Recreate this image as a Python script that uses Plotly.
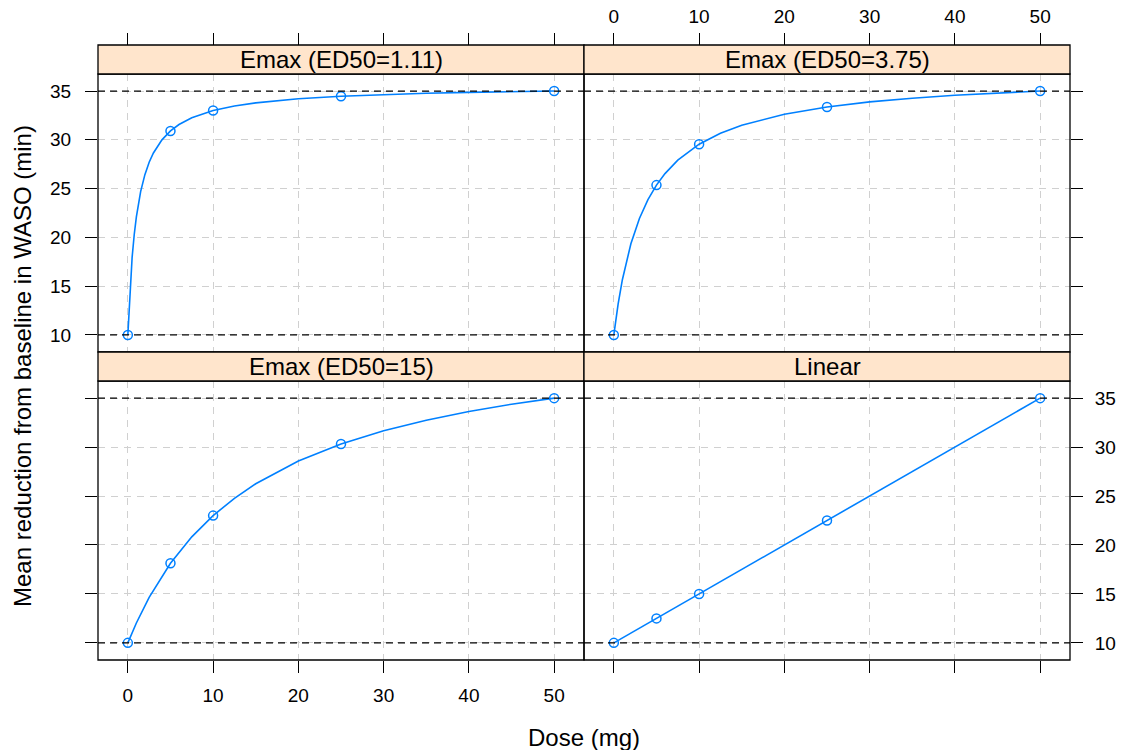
import plotly.graph_objects as go

# ---------------- data ----------------
panel_titles = ["Emax (ED50=1.11)", "Emax (ED50=3.75)", "Emax (ED50=15)", "Linear"]

obs_dose = [0, 5, 10, 25, 50]
obs_ed50_111 = [10.0, 30.91, 33.00, 34.47, 35.00]
obs_ed50_375 = [10.0, 25.36, 29.55, 33.37, 35.00]
obs_ed50_15 = [10.0, 18.13, 23.00, 30.31, 35.00]
obs_linear = [10.0, 12.5, 15.0, 22.5, 35.0]

curve_dose_111 = [0, 0.25, 0.5, 0.75, 1, 1.5, 2, 2.5, 3, 4, 5, 6, 7.5, 10, 12.5, 15, 20, 25, 30, 35, 40, 45, 50]
curve_ed50_111 = [10.0, 14.70, 17.94, 20.30, 22.11, 24.69, 26.43, 27.70, 28.65, 30.00, 30.91, 31.57,
                  32.26, 33.00, 33.47, 33.79, 34.21, 34.47, 34.64, 34.77, 34.87, 34.94, 35.00]

curve_dose_375 = [0, 0.5, 1, 1.5, 2, 3, 4, 5, 6, 7.5, 10, 12.5, 15, 20, 25, 30, 35, 40, 45, 50]
curve_ed50_375 = [10.0, 13.16, 15.66, 17.68, 19.35, 21.94, 23.87, 25.36, 26.54, 27.92, 29.55, 30.67,
                  31.50, 32.63, 33.37, 33.89, 34.27, 34.57, 34.81, 35.00]

curve_dose_15 = [0, 1, 2.5, 5, 7.5, 10, 12.5, 15, 20, 25, 30, 35, 40, 45, 50]
curve_ed50_15 = [10.0, 12.03, 14.64, 18.13, 20.83, 23.00, 24.77, 26.25, 28.57, 30.31, 31.67, 32.75,
                 33.64, 34.38, 35.00]

curve_dose_lin = [0, 5, 10, 25, 50]
curve_linear = [10.0, 12.5, 15.0, 22.5, 35.0]

ref_levels = [10, 35]
x_ticks = [0, 10, 20, 30, 40, 50]
y_ticks = [10, 15, 20, 25, 30, 35]
x_range = [-3.5, 53.5]
y_range = [8.25, 36.75]

# ---------------- layout geometry (pixels) ----------------
W, H = 1123, 750
def px(x):
    return x / W
def py(y):
    return 1 - y / H

xL = [px(98), px(584)]
xR = [px(584), px(1070)]
yT = [py(352), py(74)]
yB = [py(660), py(381)]
strip_h = 29

BLUE = "#0080ff"
GRID = "#d0d0d0"
FONT = "Liberation Sans, Arial, sans-serif"

fig = go.Figure()

panels = [
    ("x", "y", curve_dose_111, curve_ed50_111, obs_ed50_111),
    ("x2", "y2", curve_dose_375, curve_ed50_375, obs_ed50_375),
    ("x3", "y3", curve_dose_15, curve_ed50_15, obs_ed50_15),
    ("x4", "y4", curve_dose_lin, curve_linear, obs_linear),
]
for xa, ya, cd, cv, ov in panels:
    fig.add_trace(go.Scatter(x=cd, y=cv, xaxis=xa, yaxis=ya, mode="lines",
                             line=dict(color=BLUE, width=1.6), showlegend=False, hoverinfo="skip"))
    fig.add_trace(go.Scatter(x=obs_dose, y=ov, xaxis=xa, yaxis=ya, mode="markers",
                             marker=dict(symbol="circle-open", size=9, color=BLUE, line=dict(width=1.5, color=BLUE)),
                             showlegend=False))

common_x = dict(range=x_range, tickvals=x_ticks, showgrid=True, gridcolor=GRID, griddash="7px,6px",
                gridwidth=1, zeroline=False, showline=False, ticks="outside", ticklen=12,
                tickcolor="black", tickwidth=1, tickfont=dict(size=19, color="black", family=FONT))
common_y = dict(range=y_range, tickvals=y_ticks, showgrid=True, gridcolor=GRID, griddash="7px,6px",
                gridwidth=1, zeroline=False, showline=False, ticks="outside", ticklen=12,
                tickcolor="black", tickwidth=1, tickfont=dict(size=19, color="black", family=FONT))

strip_top = py(74 - strip_h)

fig.update_layout(
    xaxis=dict(common_x, domain=xL, anchor="free", position=strip_top, side="top", showticklabels=False),
    xaxis2=dict(common_x, domain=xR, anchor="free", position=strip_top, side="top", showticklabels=True,
                ticklabelstandoff=2),
    xaxis3=dict(common_x, domain=xL, anchor="y3", side="bottom", showticklabels=True, ticklabelstandoff=6),
    xaxis4=dict(common_x, domain=xR, anchor="y4", side="bottom", showticklabels=False),
    yaxis=dict(common_y, domain=yT, anchor="x", side="left", showticklabels=True, ticklabelstandoff=10),
    yaxis2=dict(common_y, domain=yT, anchor="x2", side="right", showticklabels=False),
    yaxis3=dict(common_y, domain=yB, anchor="x3", side="left", showticklabels=False),
    yaxis4=dict(common_y, domain=yB, anchor="x4", side="right", showticklabels=True, ticklabelstandoff=8),
)

shapes = []
annotations = []
axis_pairs = [("x", "y", yT), ("x2", "y2", yT), ("x3", "y3", yB), ("x4", "y4", yB)]
for i, (xa, ya, ydom) in enumerate(axis_pairs):
    # reference lines
    for lv in ref_levels:
        shapes.append(dict(type="line", xref=f"{xa} domain", yref=ya, x0=0, x1=1, y0=lv, y1=lv,
                           line=dict(color="black", width=1.2, dash="7px,5px"), layer="above"))
    # panel border
    shapes.append(dict(type="rect", xref=f"{xa} domain", yref=f"{ya} domain", x0=0, x1=1, y0=0, y1=1,
                       line=dict(color="black", width=1.3), fillcolor="rgba(0,0,0,0)", layer="above"))
    # strip
    s0 = ydom[1]
    s1 = ydom[1] + strip_h / H
    shapes.append(dict(type="rect", xref=f"{xa} domain", yref="paper", x0=0, x1=1, y0=s0, y1=s1,
                       line=dict(color="black", width=1.3), fillcolor="#ffe5cc", layer="above"))
    annotations.append(dict(text=panel_titles[i], xref=f"{xa} domain", yref="paper", x=0.5, y=(s0 + s1) / 2,
                            xanchor="center", yanchor="middle", showarrow=False,
                            font=dict(size=24, color="black", family=FONT)))

annotations.append(dict(text="Dose (mg)", xref="paper", yref="paper", x=px(584), y=py(737),
                        xanchor="center", yanchor="middle", showarrow=False,
                        font=dict(size=24, color="black", family=FONT)))
annotations.append(dict(text="Mean reduction from baseline in WASO (min)", xref="paper", yref="paper",
                        x=px(22), y=py(366), xanchor="center", yanchor="middle", showarrow=False,
                        textangle=-90, font=dict(size=24, color="black", family=FONT)))

fig.update_layout(
    width=W, height=H, margin=dict(l=0, r=0, t=0, b=0),
    paper_bgcolor="white", plot_bgcolor="white",
    shapes=shapes, annotations=annotations,
    font=dict(family=FONT, color="black"),
)

fig.write_html("out.html", config={"displayModeBar": False},
               post_script="document.body.style.margin='0';")
